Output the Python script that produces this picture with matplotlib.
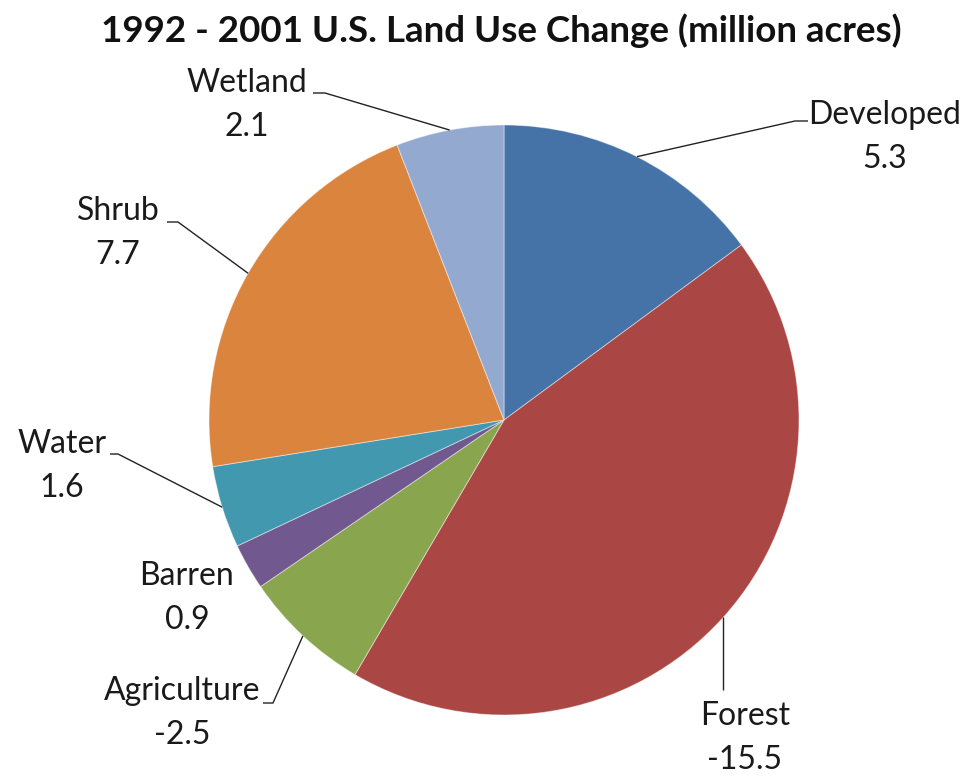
import matplotlib
matplotlib.use("Agg")
import matplotlib.pyplot as plt
import numpy as np

# Land use change 1992-2001, million acres
categories = ["Developed", "Forest", "Agriculture", "Barren", "Water", "Shrub", "Wetland"]
changes = [5.3, -15.5, -2.5, 0.9, 1.6, 7.7, 2.1]
value_labels = ["5.3", "-15.5", "-2.5", "0.9", "1.6", "7.7", "2.1"]
colors = ["#4572A7", "#AA4643", "#89A54E", "#71588F", "#4198AF", "#DB843D", "#93A9CF"]

W, H = 974, 776
plt.rcParams["font.family"] = ["Lato", "DejaVu Sans"]

fig = plt.figure(figsize=(W / 100, H / 100), dpi=100)
ax = fig.add_axes([0, 0, 1, 1])

cx, cy, r = 504, H - 420, 295
sizes = np.abs(changes)
wedges, _ = ax.pie(sizes, colors=colors, startangle=90, counterclock=False,
                   center=(cx, cy), radius=r, frame=True,
                   wedgeprops=dict(edgecolor=(1, 1, 1, 0.45), linewidth=0.7))
ax.set_xlim(0, W)
ax.set_ylim(0, H)
ax.set_aspect("equal")
ax.axis("off")

ax.text(501, H - 42, "1992 - 2001 U.S. Land Use Change (million acres)",
        ha="center", va="baseline", fontsize=26.5, fontweight="bold", color="#111111")

# label placement: (name center x, name baseline y), leader start, elbow (pixel coords, y down)
layout = {
    "Developed": ((885, 124), (808, 121), (795, 121)),
    "Forest": ((745, 725), (724, 690), None),
    "Agriculture": ((182, 700), (263, 703), (273, 703)),
    "Barren": ((187, 585), None, None),
    "Water": ((62, 453), (110, 454), (118, 454)),
    "Shrub": ((118, 220), (167, 222), (178, 222)),
    "Wetland": ((247, 92), (313, 93), (325, 93)),
}

for wedge, name, val in zip(wedges, categories, value_labels):
    (tx, ty), start, elbow = layout[name]
    ax.text(tx, H - ty, name, ha="center", va="baseline", fontsize=23, color="#1a1a1a")
    ax.text(tx, H - ty - 44, val, ha="center", va="baseline", fontsize=23, color="#1a1a1a")
    if start is None:
        continue
    mid = np.deg2rad((wedge.theta1 + wedge.theta2) / 2)
    ex, ey = cx + r * np.cos(mid), cy + r * np.sin(mid)
    if elbow is None:
        xs = [ex, ex]
        ys = [H - start[1], ey]
    else:
        xs = [start[0], elbow[0], ex]
        ys = [H - start[1], H - elbow[1], ey]
    ax.plot(xs, ys, color="#222222", linewidth=1.0, solid_capstyle="butt")

fig.savefig("out.png", dpi=100, facecolor="white")
